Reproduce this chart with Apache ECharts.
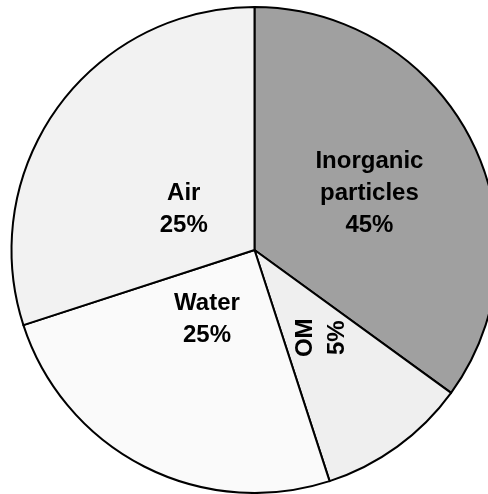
<!DOCTYPE html>
<html>
<head>
<meta charset="utf-8">
<script src="https://cdn.jsdelivr.net/npm/echarts@6/dist/echarts.min.js"></script>
<style>
html,body{margin:0;padding:0;background:#fff;}
#chart{width:488px;height:494px;}
</style>
</head>
<body>
<div id="chart"></div>
<script>
// Slice sizes as drawn (percent of circle)
const categories = ['Inorganic\nparticles', 'OM', 'Water', 'Air'];
const values = [35, 10, 25, 30];
// Percent text shown in the labels
const labelPercents = ['45%', '5%', '25%', '25%'];
const colors = ['#a0a0a0', '#efefef', '#fafafa', '#f2f2f2'];
const labelOffsets = [[4, 0], [13, -6], [9, -42], [30, 33]];
const labelRotate = [0, 90, 0, 0];

const chart = echarts.init(document.getElementById('chart'), null, {renderer: 'canvas'});
chart.setOption({
  animation: false,
  backgroundColor: '#ffffff',
  series: [{
    type: 'pie',
    center: [254.5, 250],
    radius: 243,
    startAngle: 90,
    clockwise: true,
    silent: true,
    label: {
      show: true,
      position: 'inside',
      fontFamily: '"Liberation Sans", Arial, sans-serif',
      fontWeight: 'bold',
      fontSize: 24,
      lineHeight: 32,
      color: '#000',
      align: 'center'
    },
    labelLine: {show: false},
    itemStyle: {borderColor: '#000', borderWidth: 2},
    data: categories.map((c, i) => ({
      name: c,
      value: values[i],
      itemStyle: {color: colors[i]},
      label: {
        formatter: c + '\n' + labelPercents[i],
        offset: labelOffsets[i],
        rotate: labelRotate[i]
      }
    }))
  }]
});
</script>
</body>
</html>
